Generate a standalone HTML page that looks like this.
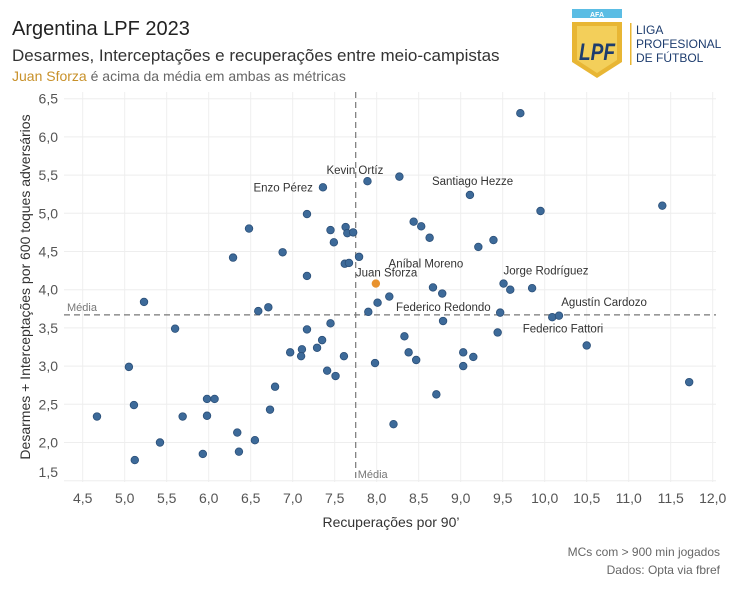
<!DOCTYPE html>
<html><head><meta charset="utf-8"><style>
body{margin:0;background:#fff;font-family:"Liberation Sans",sans-serif;}
svg text{font-family:"Liberation Sans",sans-serif;}
</style></head><body>
<svg id="chart" width="730" height="584" viewBox="0 0 730 584">
<text x="12" y="35" font-size="20" fill="#222">Argentina LPF 2023</text>
<text x="12" y="61" font-size="17" fill="#333">Desarmes, Interceptações e recuperações entre meio-campistas</text>
<text x="12" y="81" font-size="14" fill="#666"><tspan fill="#c8912a">Juan Sforza</tspan> é acima da média em ambas as métricas</text>
<g>
<rect x="572" y="9" width="50" height="9" fill="#5bbde4"/>
<text x="597" y="17" font-size="7" fill="#fff" text-anchor="middle" font-weight="bold">AFA</text>
<path d="M572 22 H622 V62 L597 78 L572 62 Z" fill="#e8b634"/>
<path d="M577 26 H617 V60 L597 73 L577 60 Z" fill="#f3cf5a"/>
<text x="597" y="60" font-size="24" fill="#1d3c6e" text-anchor="middle" font-weight="bold" font-style="italic" textLength="36" lengthAdjust="spacingAndGlyphs">LPF</text>
<rect x="630" y="23" width="1.5" height="42" fill="#e8b634"/>
<text x="636" y="34" font-size="12" fill="#1d3c6e">LIGA</text>
<text x="636" y="48" font-size="12" fill="#1d3c6e">PROFESIONAL</text>
<text x="636" y="62" font-size="12" fill="#1d3c6e">DE FÚTBOL</text>
</g>
<g id="grid"></g>
<g id="axes"></g>
<g id="marks"></g>
<g id="labels"></g>
<text x="391" y="527" font-size="14" fill="#333" text-anchor="middle">Recuperações por 90’</text>
<text transform="translate(30,287) rotate(-90)" font-size="14" fill="#333" text-anchor="middle">Desarmes + Interceptações por 600 toques adversários</text>
<text x="720" y="556" font-size="12" fill="#666" text-anchor="end">MCs com &gt; 900 min jogados</text>
<text x="720" y="574" font-size="12" fill="#666" text-anchor="end">Dados: Opta via fbref</text>
</svg>
<script>
const xTicks=[4.5,5.0,5.5,6.0,6.5,7.0,7.5,8.0,8.5,9.0,9.5,10.0,10.5,11.0,11.5,12.0];
const yTicks=[1.5,2.0,2.5,3.0,3.5,4.0,4.5,5.0,5.5,6.0,6.5];
const xVals=[7.89,8.27,7.36,7.17,6.48,7.45,7.63,7.65,7.72,7.49,6.88,6.29,7.79,7.62,7.67,7.17,9.71,9.11,9.95,11.40,8.44,8.53,8.63,9.21,9.39,9.51,9.59,9.85,8.67,8.15,8.01,7.90,5.23,6.59,6.71,5.60,7.45,7.17,7.35,7.29,7.11,6.97,7.10,7.61,7.98,7.41,7.51,5.05,6.79,5.11,5.98,6.07,4.67,5.69,5.98,6.73,8.20,6.34,5.42,6.55,5.93,6.36,5.12,8.78,9.47,10.09,10.17,8.79,9.44,8.33,10.50,8.38,8.47,9.03,9.15,9.03,11.72,8.71,7.99];
const yVals=[5.42,5.48,5.34,4.99,4.80,4.78,4.82,4.74,4.75,4.62,4.49,4.42,4.43,4.34,4.35,4.18,6.31,5.24,5.03,5.10,4.89,4.83,4.68,4.56,4.65,4.08,4.00,4.02,4.03,3.91,3.83,3.71,3.84,3.72,3.77,3.49,3.56,3.48,3.34,3.24,3.22,3.18,3.13,3.13,3.04,2.94,2.87,2.99,2.73,2.49,2.57,2.57,2.34,2.34,2.35,2.43,2.24,2.13,2.00,2.03,1.85,1.88,1.77,3.95,3.70,3.64,3.66,3.59,3.44,3.39,3.27,3.18,3.08,3.18,3.12,3.00,2.79,2.63,4.08];
const highlight=[78];
const labelNames=["Kevin Ortíz","Enzo Pérez","Santiago Hezze","Aníbal Moreno","Juan Sforza","Jorge Rodríguez","Federico Redondo","Agustín Cardozo","Federico Fattori"];
const labelIdx=[0,2,17,30,78,25,67,65,70];
const meanX=7.75, meanY=3.67;
const NS="http://www.w3.org/2000/svg";
const L=64,R=716,T=92,B=482;
const sx=v=>82.7+(v-4.5)*84;
const sy=v=>98.7+(6.5-v)*76.4;
function mk(tag,attrs,parent,txt){const e=document.createElementNS(NS,tag);for(const k in attrs)e.setAttribute(k,attrs[k]);if(txt!==undefined)e.textContent=txt;parent.appendChild(e);return e;}
const grid=document.getElementById('grid'),axes=document.getElementById('axes'),marks=document.getElementById('marks'),labels=document.getElementById('labels');
xTicks.forEach(t=>{
 const l=mk('line',{x1:sx(t),x2:sx(t),y1:T,y2:B,stroke:'#eeeeee','stroke-width':1},grid);
 
 
 const tx=mk('text',{x:sx(t),y:503,'font-size':14,fill:'#555','text-anchor':'middle'},axes,t.toFixed(1).replace('.',','));
 
 
});
yTicks.forEach(t=>{
 const l=mk('line',{x1:L,x2:R,y1:sy(t),y2:sy(t),stroke:'#eeeeee','stroke-width':1},grid);
 
 
 let yy=Math.min(sy(t)+5,477);
 const tx=mk('text',{x:58,y:yy,'font-size':14,fill:'#555','text-anchor':'end'},axes,t.toFixed(1).replace('.',','));
 
 
});
const mx=mk('line',{x1:sx(meanX),x2:sx(meanX),y1:T,y2:B,stroke:'#777','stroke-dasharray':'6,4','stroke-width':1.2},axes);


const my=mk('line',{x1:L,x2:R,y1:sy(meanY),y2:sy(meanY),stroke:'#777','stroke-dasharray':'6,4','stroke-width':1.2},axes);


const mlx=mk('text',{x:sx(meanX)+2,y:478,'font-size':11,fill:'#777'},axes,'Média');


const mly=mk('text',{x:67,y:sy(meanY)-4,'font-size':11,fill:'#777'},axes,'Média');


xVals.forEach((v,i)=>{
 const hl=highlight.includes(i);
 const c=mk('circle',{cx:sx(v),cy:sy(yVals[i]),r:3.8,fill:hl?'#e8922e':'#3d6a99',stroke:hl?'#e8922e':'#2b4f78','stroke-width':0.8},marks);
 
 
});
const offs=[[-41,-7,'start'],[-10,4,'end'],[-38,-10,'start'],[11,-35,'start'],[-20,-7,'start'],[0,-9,'start'],[-47,-10,'start'],[9,-11,'start'],[-64,-13,'start']];
labelIdx.forEach((k,j)=>{
 const o=offs[j];
 const px=sx(xVals[k]),py=sy(yVals[k]);
 const t=mk('text',{x:px+o[0],y:py+o[1],'font-size':11.5,fill:'#333','text-anchor':o[2]},labels,labelNames[j]);
 
 
});
</script>
</body></html>
